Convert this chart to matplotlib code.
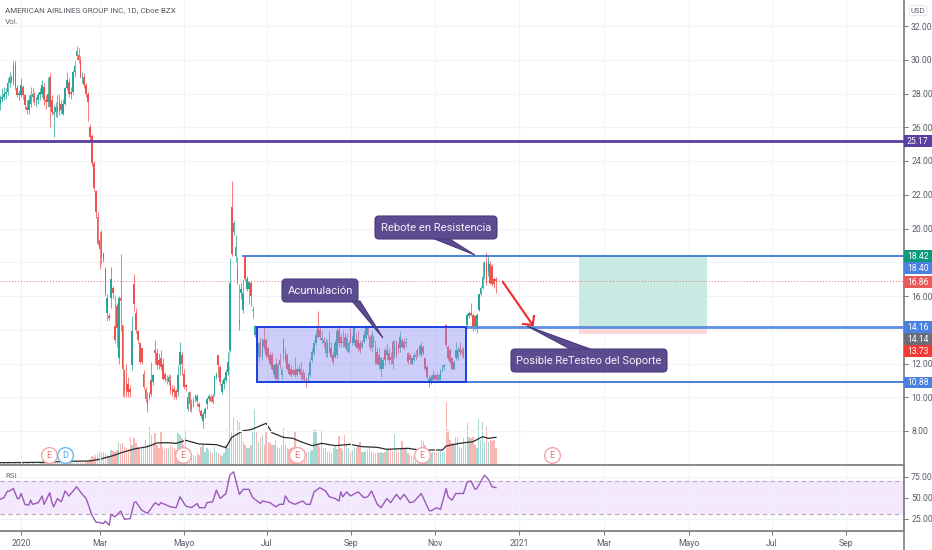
import numpy as np
import matplotlib
matplotlib.use('Agg')
import matplotlib.pyplot as plt
from matplotlib.patches import FancyBboxPatch, Polygon, Rectangle

plt.rcParams['font.family'] = ['Roboto', 'DejaVu Sans']

# velas diarias
opens = [27.4,27.7,27.8,28.0,28.1,28.6,29.0,28.7,29.7,28.3,
         27.9,27.9,28.4,27.9,27.2,27.0,27.4,27.8,27.9,27.5,
         27.6,27.9,28.0,28.4,27.6,27.5,29.0,27.6,26.8,26.9,
         27.2,26.9,27.4,26.8,27.4,28.3,28.7,28.1,28.1,29.3,
         30.2,30.3,30.0,28.9,29.0,28.5,28.0,26.0,25.5,23.9,
         22.2,20.7,19.3,19.8,18.2,17.6,15.0,14.8,15.9,16.5,
         14.2,15.4,12.3,15.9,14.3,11.6,10.9,10.8,10.5,11.9,
         16.7,15.0,13.9,13.2,12.9,11.4,10.5,9.9,10.2,11.0,
         10.9,12.8,12.6,12.2,12.3,12.0,11.4,11.1,10.9,11.0,
         10.5,10.5,10.4,10.3,11.9,12.5,11.4,10.7,9.3,10.3,
         9.6,9.5,9.9,9.8,9.6,9.2,8.6,9.0,9.6,9.9,
         10.0,10.1,10.2,11.2,12.5,11.8,10.3,10.8,11.0,11.5,
         12.8,21.3,19.8,18.4,17.7,14.6,16.2,15.2,18.4,16.4,
         16.4,16.8,15.1,13.7,13.6,12.4,13.3,12.4,13.4,13.4,
         12.9,12.5,12.5,11.4,12.0,11.1,12.2,11.3,12.6,12.7,
         12.5,12.0,11.7,11.6,11.6,11.7,11.5,11.7,11.5,11.3,
         11.1,10.95,11.3,12.2,12.6,13.2,14.1,14.0,13.4,13.4,
         12.6,12.6,13.3,12.9,12.5,12.4,12.5,14.0,13.6,13.2,
         13.6,12.8,12.7,13.8,13.2,13.2,13.4,13.4,13.2,13.0,
         13.3,13.5,14.1,13.6,12.9,13.1,12.9,12.7,12.5,11.7,
         11.7,12.8,12.5,12.6,12.4,13.3,12.5,13.3,13.1,12.9,
         13.4,13.3,13.2,12.6,12.5,12.0,12.2,12.5,12.5,12.6,
         12.5,13.0,12.3,11.8,10.9,10.9,11.0,11.3,11.3,11.0,
         11.1,11.6,11.8,14.3,13.0,12.8,12.3,11.7,12.3,12.3,
         12.9,12.8,12.8,12.8,14.3,14.8,15.0,14.9,14.8,14.1,
         15.2,16.1,16.5,17.15,18.0,17.4,17.9,17.8,17.0,17.0]
closes = [27.7,27.8,28.0,28.1,28.6,29.0,28.7,29.6,28.4,27.9,
          28.0,28.5,27.9,27.3,27.0,27.6,27.9,28.0,27.5,27.6,
          27.9,28.1,28.5,27.6,27.5,28.0,27.2,26.9,26.9,27.2,
          26.9,27.5,27.0,27.4,28.3,28.8,28.0,28.0,29.3,29.6,
          30.5,30.0,29.0,29.0,28.5,28.0,27.5,25.4,23.9,22.4,
          21.0,19.1,18.8,18.3,18.5,16.1,15.9,14.7,17.0,16.2,
          13.4,14.1,15.9,15.7,11.7,10.4,10.4,10.3,10.3,13.9,
          15.5,14.0,13.4,12.1,12.1,10.6,9.9,9.5,10.0,10.2,
          11.3,12.6,11.9,11.9,11.8,11.1,11.1,11.0,11.2,10.4,
          10.2,10.3,10.0,11.3,12.7,12.0,10.6,10.6,10.0,9.6,
          9.3,9.8,10.1,10.1,9.4,8.9,9.0,9.3,9.9,10.1,
          9.8,9.7,11.2,11.4,11.9,10.9,10.8,11.1,11.5,12.1,
          16.8,18.5,20.3,18.9,17.0,14.3,16.4,16.2,17.0,17.0,
          16.8,16.0,15.2,14.2,13.0,13.2,12.5,13.4,13.0,12.5,
          12.4,12.0,11.7,11.9,11.1,11.9,11.9,11.6,13.4,12.2,
          11.7,11.4,11.3,11.4,11.3,11.3,11.7,11.3,11.1,11.0,
          10.9,11.4,12.1,12.7,13.2,13.7,13.6,13.6,13.5,13.2,
          13.3,13.2,12.7,12.4,12.1,13.2,13.9,13.2,13.2,13.3,
          13.0,13.5,13.2,13.3,13.5,14.1,13.0,12.9,12.8,13.2,
          13.7,14.1,13.7,13.0,13.7,13.5,12.1,12.0,11.9,12.3,
          12.2,12.2,12.8,12.2,12.2,12.0,13.1,12.5,12.8,13.6,
          13.0,12.9,13.3,12.1,12.2,12.3,12.5,12.4,12.8,13.0,
          13.1,12.6,11.7,11.2,11.1,11.2,11.3,11.1,11.0,11.3,
          11.6,11.8,11.9,13.1,12.3,12.1,11.7,12.1,12.8,12.8,
          12.7,12.6,12.5,13.6,14.85,15.0,14.9,14.1,14.2,14.9,
          16.1,16.5,17.15,18.0,16.8,18.0,16.8,16.7,16.7,16.86]
highs = [27.9,28.3,28.4,28.3,28.9,29.3,29.1,29.9,29.9,28.5,
         28.2,28.9,28.5,28.0,27.6,27.9,28.4,28.3,28.1,27.8,
         28.1,28.3,28.8,28.6,27.9,29.0,29.2,27.9,27.3,27.5,
         27.9,28.0,27.6,27.7,28.4,29.3,28.9,28.4,29.4,29.9,
         30.8,30.7,30.2,29.3,29.2,28.6,28.1,26.2,25.6,24.0,
         22.3,21.0,19.8,19.9,18.6,17.7,16.1,15.0,17.7,16.6,
         16.0,15.6,16.0,18.5,14.3,11.7,12.0,11.2,10.7,14.8,
         17.3,15.3,14.0,13.3,12.9,11.6,10.6,10.3,10.3,12.1,
         11.4,13.4,12.9,12.6,12.8,12.3,11.5,11.3,11.4,11.3,
         10.7,10.7,10.5,11.9,13.3,12.7,11.7,10.8,10.3,10.4,
         9.9,10.0,10.2,10.2,9.7,9.3,9.1,9.4,10.0,10.2,
         10.2,10.2,11.3,11.5,12.5,11.9,11.0,11.2,11.7,12.7,
         18.25,22.8,20.5,19.6,18.3,16.7,16.8,17.0,18.4,17.2,
         16.9,16.9,15.4,14.3,14.0,13.3,13.5,13.5,14.2,13.5,
         13.0,12.7,12.7,12.0,12.3,12.1,12.6,11.8,13.5,12.9,
         12.6,12.1,11.9,11.7,12.4,11.8,12.0,12.1,11.7,11.5,
         11.2,11.5,12.3,12.9,13.4,14.0,15.1,14.2,13.9,13.6,
         13.5,13.4,13.9,13.3,12.7,13.4,14.1,14.3,13.8,14.0,
         13.8,13.8,13.4,14.1,13.7,14.2,13.8,13.9,13.4,13.4,
         13.9,14.3,14.2,13.7,13.9,13.7,13.4,13.0,12.9,12.4,
         12.4,13.0,13.2,12.9,12.7,13.4,13.4,13.4,13.2,13.9,
         13.5,13.5,13.6,12.7,12.6,12.4,12.7,12.8,12.9,13.1,
         13.3,13.1,12.4,11.9,11.3,11.3,11.6,11.4,11.5,11.4,
         11.7,11.9,12.0,14.35,13.1,12.9,12.4,12.2,13.3,13.0,
         13.3,13.0,13.0,13.7,15.0,15.1,15.6,15.0,14.9,15.0,
         16.1,16.6,18.0,18.1,18.6,18.4,18.1,17.9,17.1,17.1]
lows = [27.0,27.5,27.6,27.7,27.9,28.4,28.6,28.5,28.2,27.8,
        27.6,27.8,27.7,27.1,26.8,26.8,27.2,27.5,27.3,27.2,
        27.4,27.6,27.8,27.3,27.1,27.2,26.0,26.7,25.4,26.6,
        26.6,26.7,26.8,26.7,27.3,28.2,27.8,27.7,28.0,29.0,
        30.0,29.8,28.9,28.6,28.3,27.8,26.4,25.2,23.7,22.2,
        20.6,19.0,17.6,17.9,18.0,16.0,14.5,14.6,15.3,15.8,
        13.2,13.0,12.0,13.9,10.1,10.0,10.0,10.0,10.0,11.6,
        15.1,13.8,13.2,12.0,12.0,10.5,9.7,9.1,9.9,10.1,
        10.7,12.0,11.7,11.7,11.6,11.0,10.9,10.8,10.7,10.2,
        10.1,9.9,9.9,10.1,11.3,11.3,10.5,10.4,9.2,9.2,
        9.1,9.4,9.7,9.5,9.1,8.8,8.2,8.8,9.3,9.8,
        9.7,9.6,10.1,11.1,11.2,10.7,10.2,10.5,10.9,11.3,
        12.7,18.4,19.6,18.0,16.7,14.0,15.8,15.0,16.9,16.3,
        15.5,15.4,14.7,13.6,12.9,12.1,12.4,12.2,12.8,12.3,
        12.2,11.9,11.6,11.2,10.9,10.9,11.7,11.1,12.2,12.1,
        11.6,11.3,11.2,11.3,11.2,11.2,11.4,11.0,11.0,10.9,
        10.6,10.9,11.2,12.1,12.5,13.1,13.5,13.4,13.2,13.0,
        12.4,12.4,12.6,12.3,12.0,12.3,12.3,13.0,13.0,13.0,
        12.9,12.7,12.6,13.2,13.1,13.1,12.9,12.7,12.6,12.9,
        13.2,13.4,13.5,12.8,12.7,13.0,12.0,11.9,11.7,11.2,
        11.8,11.9,12.2,12.0,12.0,11.7,12.3,12.3,12.6,12.7,
        12.9,12.8,13.0,12.0,12.0,11.9,12.1,12.2,12.4,12.5,
        12.4,12.5,11.6,11.1,10.6,10.8,10.9,11.0,10.9,10.9,
        11.0,11.5,11.6,13.0,12.2,12.0,11.6,11.6,12.2,12.2,
        12.5,12.4,12.3,12.7,14.2,14.7,14.8,13.9,14.0,13.8,
        15.1,16.0,16.4,17.0,16.65,17.2,16.7,16.6,16.5,16.15]

# volumen (millones aprox.)
volumes = [6,4,5,3,7,6,4,5,6,4,
           5,7,5,4,8,5,4,6,5,4,
           6,5,7,8,6,5,9,7,5,6,
           5,7,6,5,8,6,7,9,7,6,
           8,10,9,8,7,9,12,18,28,25,
           30,32,38,35,40,36,30,28,45,42,
           40,46,70,62,65,55,52,48,85,60,
           80,65,55,50,55,55,75,60,113,90,
           70,95,60,50,100,55,48,50,52,60,
           55,50,45,95,90,80,60,105,50,40,
           35,30,28,35,30,55,60,40,50,45,
           40,35,55,40,35,30,28,35,60,50,
           350,100,145,80,135,130,95,70,60,50,
           50,60,100,167,100,70,80,90,60,100,
           70,65,60,60,75,55,50,60,110,60,
           50,48,50,55,100,50,45,50,40,45,
           40,38,42,45,105,105,60,55,105,50,
           50,40,42,35,50,55,48,87,50,45,
           90,60,52,40,45,55,50,60,70,40,
           38,42,48,50,40,38,35,40,36,40,
           35,40,45,50,48,42,93,45,40,50,
           73,50,48,35,30,28,25,30,28,35,
           75,73,60,40,38,35,40,38,36,40,
           42,38,40,190,105,75,65,60,85,85,
           55,50,80,60,127,85,80,85,60,50,
           138,75,130,70,113,70,75,72,75,50]

vol_ma_bars = [0,23,35,47,52,59,64,70,77,82,87,92,97,104,113,118,121,127,131,139,142,148,
               153,157,163,168,175,183,189,197,202,213,219,231,233,240,247,252,255,259]
vol_ma = [7,8,11,12,17,28,38,48,55,66,67,65,74,63,61,52,83,103,106,125,97,83,
          80,70,58,65,58,62,55,53,47,50,45,45,57,65,70,85,80,83]

rsi_bars = [0,2,4,5,7,9,10,11,13,15,16,17,20,22,23,26,27,28,30,32,34,36,40,43,45,48,50,54,55,57,58,60,
            63,65,68,70,71,74,77,81,83,84,89,92,94,97,100,103,104,107,108,111,113,115,118,120,122,125,127,130,
            132,136,137,141,144,146,148,149,151,154,158,160,162,164,167,170,172,175,177,178,179,181,183,187,
            190,192,194,197,199,202,204,207,209,211,214,216,220,224,225,228,230,233,234,236,238,242,244,246,
            248,249,253,255,257,259]
rsi = [48,50,58,58,61,49,49,55,42,41,47,42,44,52,42,56,45,39,49,45,58,52,63,54,49,29,21,19,22,17,30,27,
       34,24,25,44,45,35,31,44,41,44,39,38,51,40,38,43,38,38,44,45,59,49,55,77,81,54,60,60,
       50,43,46,44,39,42,42,52,45,42,46,42,42,57,62,58,51,49,46,57,51,57,52,57,
       50,51,58,42,38,49,44,54,48,54,44,45,55,35,34,38,36,61,51,47,55,55,69,70,
       60,61,77,72,63,62]

x_ticks = [11, 52, 96, 139.3, 183.3, 227, 271, 315.4, 359.8, 403, 441.8]
x_labels = ['2020', 'Mar', 'Mayo', 'Jul', 'Sep', 'Nov', '2021', 'Mar', 'Mayo', 'Jul', 'Sep']
price_ticks = [8, 10, 12, 14, 16, 18, 20, 22, 24, 26, 28, 30, 32]
# 14.00 y 18.00 quedan tapados por las etiquetas
price_hidden = [14, 18]
rsi_ticks = [25, 50, 75]

# etiquetas del eje de precios: texto, fila en pixeles, color
tag_text = ['25.17', '18.42', '18.40', '16.86', '14.16', '14.14', '13.73', '10.88']
tag_row = [141, 256, 268, 282, 327, 339, 351, 382.5]
tag_color = ['#5b3fa0', '#0b9a7d', '#4a80e0', '#e8595c', '#4a80e0', '#6b6e78', '#f23b36', '#4a80e0']

earn_bars = [25.6, 95.4, 155, 220.4, 288]
div_bar = 34.2

up = '#26a69a'
down = '#ef5350'
grid_c = '#f1f3f8'
text_c = '#5a5d68'
line_blue = '#3a78d4'

W, H = 932.0, 550.0
AX_R = 903.5 / W
fig = plt.figure(figsize=(9.32, 5.5), dpi=100)
rect_price = [0, (H - 465) / H, AX_R, 465 / H]
rect_rsi = [0, (H - 531) / H, AX_R, 66 / H]

xs = np.arange(len(closes))
is_up = np.array(closes) >= np.array(opens)
XLIM = (0, 903.5 / 1.915)

# volumen detras de las velas
axv = fig.add_axes(rect_price, zorder=1)
axv.bar(xs, volumes, width=0.72, color=np.where(is_up, up, down), alpha=0.42, linewidth=0)
axv.plot(vol_ma_bars, vol_ma, color='#2c2c2c', lw=0.9)
axv.set_xlim(XLIM)
axv.set_ylim(0, 465 * 3)
axv.axis('off')

ax = fig.add_axes(rect_price, zorder=2)
ax.patch.set_alpha(0)
ax.set_xlim(XLIM)
ax.set_ylim(32 - 439 / 16.875, 32 + 26 / 16.875)
ax.set_yticks(price_ticks)
ax.set_yticklabels(['' if p in price_hidden else '%.2f' % p for p in price_ticks])
ax.yaxis.tick_right()
ax.tick_params(axis='y', length=3, width=0.7, color='#777777', labelcolor=text_c, labelsize=6.2, pad=2.5)
ax.set_xticks(x_ticks)
ax.tick_params(axis='x', length=0, labelbottom=False)
ax.grid(True, color=grid_c, lw=0.8, zorder=0)
ax.set_axisbelow(True)
for s in ['top', 'left', 'bottom']:
    ax.spines[s].set_visible(False)
ax.spines['right'].set_color('#777777')
ax.spines['right'].set_linewidth(1.2)

# zona objetivo y stop
ax.fill_between([302.5, 369.2], 14.16, 18.40, color='#c9e9e3', lw=0, zorder=1)
ax.fill_between([302.5, 369.2], 13.73, 14.16, color='#fad6d6', lw=0, zorder=1)

ax.axhline(16.86, color='#ef5350', lw=0.7, ls=(0, (1, 2)), alpha=0.8, zorder=1.5)

colors = np.where(is_up, up, down)
ax.vlines(xs, lows, highs, colors=colors, lw=0.7, alpha=0.75, zorder=2)
ax.bar(xs, np.abs(np.array(closes) - np.array(opens)), bottom=np.minimum(opens, closes),
       width=0.85, color=colors, linewidth=0, zorder=2.1)

# caja de acumulacion
ax.add_patch(Rectangle((134.2, 10.88), 109.2, 3.28, facecolor='#8f90f2', alpha=0.45, lw=0, zorder=3))
ax.add_patch(Rectangle((134.2, 10.88), 109.2, 3.28, fill=False, edgecolor='#1c3fe0', lw=1.4, zorder=3.2))

ax.axhline(25.17, color='#5b3fa0', lw=2, zorder=3)
ax.plot([127, XLIM[1]], [18.40, 18.40], color=line_blue, lw=1.3, zorder=3)
ax.plot([243.4, XLIM[1]], [14.16, 14.16], color='#5a8fe2', lw=2, zorder=3)
ax.plot([144.6, XLIM[1]], [10.88, 10.88], color=line_blue, lw=1.3, zorder=3)

# E / D
ax.scatter(earn_bars, [6.58] * len(earn_bars), s=128, facecolor='white', edgecolor='#f3a6a6', lw=1, zorder=4, clip_on=False)
ax.scatter([div_bar], [6.58], s=128, facecolor='white', edgecolor='#6bb8f0', lw=1, zorder=4)
for b in earn_bars:
    ax.text(b, 6.56, 'E', color='#e57373', fontsize=6.5, ha='center', va='center', zorder=5)
ax.text(div_bar, 6.56, 'D', color='#42a5f5', fontsize=6.5, ha='center', va='center', zorder=5)

# panel RSI
axr = fig.add_axes(rect_rsi, zorder=2)
axr.set_xlim(XLIM)
axr.set_ylim(10, 89.2)
axr.axhspan(30, 70, color='#f3e8fd', lw=0, zorder=0)
axr.axhline(70, color='#b9a6c6', lw=0.8, ls=(0, (4, 3)), zorder=1)
axr.axhline(30, color='#b9a6c6', lw=0.8, ls=(0, (4, 3)), zorder=1)
axr.plot(rsi_bars, rsi, color='#9b59b6', lw=1.0, zorder=3)
axr.set_yticks(rsi_ticks)
axr.set_yticklabels(['%.2f' % r for r in rsi_ticks])
axr.yaxis.tick_right()
axr.tick_params(axis='y', length=3, width=0.7, color='#777777', labelcolor=text_c, labelsize=6.2, pad=2.5)
axr.set_xticks(x_ticks)
axr.set_xticklabels(x_labels)
axr.tick_params(axis='x', length=3, width=0.7, color='#777777', labelcolor=text_c, labelsize=6.2, pad=3)
axr.grid(True, color=grid_c, lw=0.8, zorder=0)
axr.set_axisbelow(True)
axr.spines['left'].set_visible(False)
for s in ['top', 'bottom', 'right']:
    axr.spines[s].set_color('#808080')
    axr.spines[s].set_linewidth(1.3)

# capa en pixeles para textos, notas y etiquetas
ov = fig.add_axes([0, 0, 1, 1], zorder=6)
ov.set_xlim(0, W)
ov.set_ylim(H, 0)
ov.axis('off')

ov.plot([903.5, 903.5], [531, 550], color='#808080', lw=1.2)
ov.text(5, 10.5, 'AMERICAN AIRLINES GROUP INC, 1D, Cboe BZX', color='#555861', fontsize=5.8, va='center')
ov.text(5, 21.5, 'Vol.', color='#6b6e78', fontsize=5.8, va='center')
ov.text(5, 476, 'RSI', color='#6b6e78', fontsize=5.8, va='center')

ov.add_patch(FancyBboxPatch((909, 5.5), 18, 10, boxstyle='round,pad=0,rounding_size=2', facecolor='white',
                            edgecolor='#e6e8ee', lw=0.8))
ov.text(918, 10.6, 'USD', color=text_c, fontsize=5.6, ha='center', va='center')

for t, r, c in zip(tag_text, tag_row, tag_color):
    ov.add_patch(Rectangle((904, r - 5.8), 27.5, 11.6, facecolor=c, lw=0))
    ov.text(917.7, r + 0.2, t, color='white', fontsize=6.2, ha='center', va='center')

box_c = '#5c4b8f'
edge_c = '#4a3b7a'


def callout(x0, y0, x1, y1, tail, label, size):
    ov.add_patch(Polygon(tail, closed=True, facecolor=box_c, edgecolor=edge_c, lw=0.8, zorder=7))
    ov.add_patch(FancyBboxPatch((x0, y0), x1 - x0, y1 - y0, boxstyle='round,pad=0,rounding_size=4',
                                facecolor=box_c, edgecolor=edge_c, lw=0.8, zorder=8))
    ov.text((x0 + x1) / 2, (y0 + y1) / 2 + 0.3, label, color='#f4f2fa', fontsize=size, ha='center', va='center', zorder=9)


callout(375, 216, 497, 239, [(432, 238), (448, 238), (475, 255)], 'Rebote en Resistencia', 8.1)
callout(282, 279, 358, 302, [(352, 301), (360, 301), (383, 338)], 'Acumulación', 8.1)
callout(511, 349, 667, 372, [(572, 350), (593, 350), (527, 326)], 'Posible ReTesteo del Soporte', 8.0)

# flecha roja
red = '#ee2a2a'
ov.plot([502.7, 532.7], [281.7, 325], color=red, lw=1.5, solid_capstyle='round')
ov.plot([534, 532.7, 523], [316, 325, 324], color=red, lw=1.5, solid_joinstyle='miter')

fig.savefig('out.png', dpi=100)
